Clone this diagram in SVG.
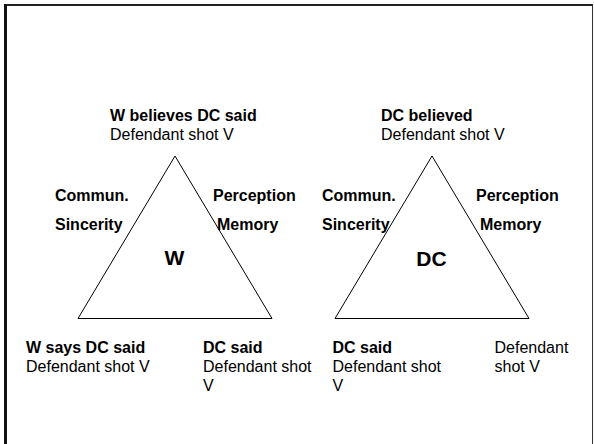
<svg xmlns="http://www.w3.org/2000/svg" width="594" height="444" viewBox="0 0 594 444">
<style>
text{font-family:"Liberation Sans",Arial,sans-serif;font-size:16px;fill:#000}
.b{font-weight:bold}
.big{font-weight:bold;font-size:21px;text-anchor:middle}
.tri{fill:#fff;stroke:#000;stroke-width:1}
</style>
<rect width="594" height="444" fill="#fff"/>
<g id="frame">
<line x1="4" y1="5" x2="593" y2="5" stroke="#222" stroke-width="2"/>
<line x1="5.5" y1="4" x2="5.5" y2="444" stroke="#111" stroke-width="3"/>
<line x1="592.5" y1="4" x2="592.5" y2="444" stroke="#333" stroke-width="1"/>
</g>
<g id="connectors"></g>
<g id="node-W">
<polygon class="tri" points="175,156 78,318.5 272,318.5"/>
<text class="big" x="174.5" y="265">W</text>
</g>
<g id="node-DC">
<polygon class="tri" points="432,156 335,318.5 529,318.5"/>
<text class="big" x="431.5" y="266">DC</text>
</g>
<g id="labels-W">
<text class="b" x="110" y="120.5">W believes DC said</text>
<text x="110" y="140">Defendant shot V</text>
<text class="b" x="55" y="200.5">Commun.</text>
<text class="b" x="55" y="230">Sincerity</text>
<text class="b" x="213" y="200.5">Perception</text>
<text class="b" x="217" y="230">Memory</text>
<text class="b" x="26" y="352.5">W says DC said</text>
<text x="26" y="372">Defendant shot V</text>
<text class="b" x="203" y="352.5">DC said</text>
<text x="203" y="372">Defendant shot</text>
<text x="203" y="390.5">V</text>
</g>
<g id="labels-DC">
<text class="b" x="381" y="120.5">DC believed</text>
<text x="381" y="140">Defendant shot V</text>
<text class="b" x="322" y="200.5">Commun.</text>
<text class="b" x="322" y="230">Sincerity</text>
<text class="b" x="476" y="200.5">Perception</text>
<text class="b" x="480" y="230">Memory</text>
<text class="b" x="332.5" y="352.5">DC said</text>
<text x="332.5" y="372">Defendant shot</text>
<text x="332.5" y="390.5">V</text>
<text x="494.5" y="352.5">Defendant</text>
<text x="494.5" y="372">shot V</text>
</g>
</svg>
